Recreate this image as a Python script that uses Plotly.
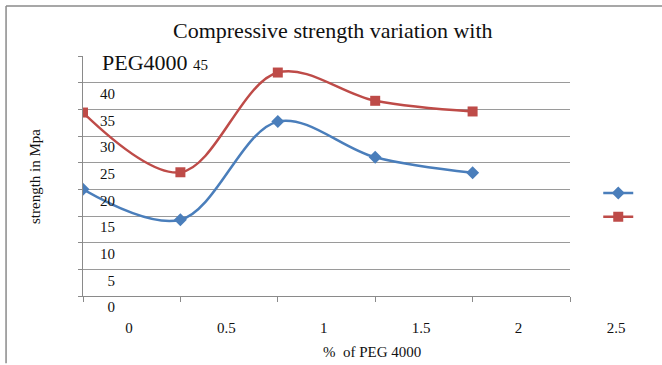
import plotly.graph_objects as go

# Data
peg_pct = [0, 0.5, 1, 1.5, 2]
series_a = [20.0, 14.3, 32.7, 26.0, 23.1]   # blue, diamonds
series_b = [34.4, 23.2, 41.9, 36.6, 34.6]   # red, squares

x_tickvals = [0, 0.5, 1, 1.5, 2, 2.5]
x_ticktext = ["0", "0.5", "1", "1.5", "2", "2.5"]
y_tickvals = [0, 5, 10, 15, 20, 25, 30, 35, 40, 45]
y_ticktext = [str(v) for v in y_tickvals[:-1]] + [""]

title_line1 = "Compressive strength variation with"
title_line2 = "PEG4000"
x_title = "%&nbsp;&nbsp;of PEG 4000"
y_title = "strength in Mpa"

SERIF = "Liberation Serif, Times New Roman, serif"
BLUE = "#4A7EBB"
RED = "#BE4B48"
GRID = "#9a9a9a"

fig = go.Figure()
fig.add_trace(go.Scatter(
    x=peg_pct, y=series_a, mode="lines+markers", name=" ",
    line=dict(color=BLUE, width=2.5, shape="spline", smoothing=1),
    marker=dict(symbol="diamond", size=10, color=BLUE),
))
fig.add_trace(go.Scatter(
    x=peg_pct, y=series_b, mode="lines+markers", name=" ",
    line=dict(color=RED, width=2.5, shape="spline", smoothing=1),
    marker=dict(symbol="square", size=10, color=RED),
))

fig.update_layout(
    width=662, height=365,
    margin=dict(l=83, r=92, t=56, b=69),
    paper_bgcolor="white", plot_bgcolor="white",
    font=dict(family=SERIF, size=15, color="#111"),
    showlegend=True,
    legend=dict(x=1.058, y=0.5, xanchor="left", yanchor="top",
                bgcolor="rgba(0,0,0,0)", font=dict(size=16),
                itemwidth=30),
    xaxis=dict(
        range=[0, 2.5], tickmode="array", tickvals=x_tickvals, ticktext=x_ticktext,
        showgrid=False, zeroline=False, showline=True, linecolor="#8a8a8a", linewidth=1,
        ticks="outside", ticklen=5, tickcolor="#8a8a8a",
        ticklabelshift=46, ticklabelstandoff=13,
        tickfont=dict(family=SERIF, size=15, color="#111"),
    ),
    yaxis=dict(
        range=[0, 45], tickmode="array", tickvals=y_tickvals, ticktext=y_ticktext,
        showgrid=True, gridcolor=GRID, gridwidth=1, zeroline=False,
        showline=True, linecolor="#8a8a8a", linewidth=1,
        ticks="outside", ticklen=4, tickcolor="#8a8a8a",
        ticklabelshift=11, ticklabelstandoff=-40,
        tickfont=dict(family=SERIF, size=15, color="#111"),
    ),
    annotations=[
        dict(text=title_line1, xref="paper", yref="paper", x=0.514, y=1.108,
             xanchor="center", yanchor="middle", showarrow=False,
             font=dict(family=SERIF, size=22, color="#111")),
        dict(text=title_line2 + " <span style='font-size:15px'>45</span>",
             xref="paper", yref="paper", x=0.035, y=0.971,
             xanchor="left", yanchor="middle", showarrow=False,
             font=dict(family=SERIF, size=22, color="#111")),
        dict(text=y_title, xref="paper", yref="paper", x=-0.0986, y=0.5,
             xanchor="center", yanchor="middle", textangle=-90, showarrow=False,
             font=dict(family=SERIF, size=15, color="#111")),
        dict(text=x_title, xref="paper", yref="paper", x=0.593, y=-0.233,
             xanchor="center", yanchor="middle", showarrow=False,
             font=dict(family=SERIF, size=15, color="#111")),
    ],
    shapes=[
        dict(type="line", xref="paper", yref="paper", x0=-0.158, x1=-0.158, y0=-0.28, y1=1.208,
             line=dict(color="#8a8a8a", width=1.5)),
        dict(type="line", xref="paper", yref="paper", x0=-0.158, x1=1.2, y0=1.208, y1=1.208,
             line=dict(color="#8a8a8a", width=1.5)),
    ],
)

fig.write_html("out.html")
